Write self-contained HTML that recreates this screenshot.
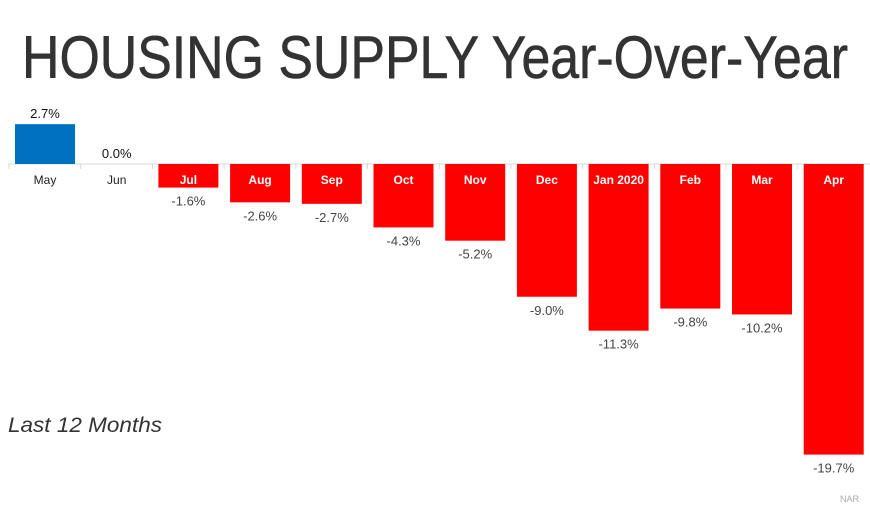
<!DOCTYPE html>
<html><head><meta charset="utf-8"><style>
html,body{margin:0;padding:0;background:#fff;}
svg{display:block;font-family:"Liberation Sans",sans-serif;}
</style></head><body>
<svg id="chart" width="870" height="514" viewBox="0 0 870 514">
<text x="22" y="78" font-size="60" fill="#333" stroke="#333" stroke-width="0.6" textLength="826" lengthAdjust="spacingAndGlyphs">HOUSING SUPPLY Year-Over-Year</text>
<line x1="8" y1="164" x2="870" y2="164" stroke="#d9d9d9" stroke-width="1"/>
<g id="bars"></g>
<text x="8" y="432" font-size="21" font-style="italic" fill="#333" textLength="154" lengthAdjust="spacingAndGlyphs">Last 12 Months</text>
<text x="840" y="502" font-size="9" fill="#aaa">NAR</text>
</svg>
<script>
const categories=["May","Jun","Jul","Aug","Sep","Oct","Nov","Dec","Jan 2020","Feb","Mar","Apr"];
const values=[2.7,0.0,-1.6,-2.6,-2.7,-4.3,-5.2,-9.0,-11.3,-9.8,-10.2,-19.7];
const valueLabels=["2.7%","0.0%","-1.6%","-2.6%","-2.7%","-4.3%","-5.2%","-9.0%","-11.3%","-9.8%","-10.2%","-19.7%"];
const NS="http://www.w3.org/2000/svg";
const g=document.getElementById('bars');
const base=164, ppu=14.75, x0=15, step=71.7, bw=60;
const y=v=>base-v*ppu;
const xs=i=>x0+i*step;
function mk(t,a){const e=document.createElementNS(NS,t);for(const k in a)e.setAttribute(k,a[k]);g.appendChild(e);return e;}
categories.forEach((c,i)=>{
  const v=values[i],x=xs(i),cx=x+bw/2;
  const tk=mk('line',{x1:x-6,y1:base,x2:x-6,y2:base+5,stroke:'#d9d9d9'});
  
  
  if(v!==0){
    const top=Math.min(y(v),base),h=Math.abs(y(v)-base);
    const r=mk('rect',{x:x,y:top,width:bw,height:h,fill:v>0?'#0070c0':'#ff0000'});
    
    
  }
  const neg=v<0;
  const cl=mk('text',{x:cx,y:base+20,'font-size':12,'text-anchor':'middle',fill:neg?'#fff':'#222','font-weight':neg?'bold':'normal'});
  cl.textContent=c;
  
  
  const vy=neg?y(v)+18:y(v)-6;
  const vl=mk('text',{x:cx,y:vy,'font-size':13,'text-anchor':'middle',fill:neg?'#444':'#111'});
  vl.textContent=valueLabels[i];
  
  
});
</script>
</body></html>
